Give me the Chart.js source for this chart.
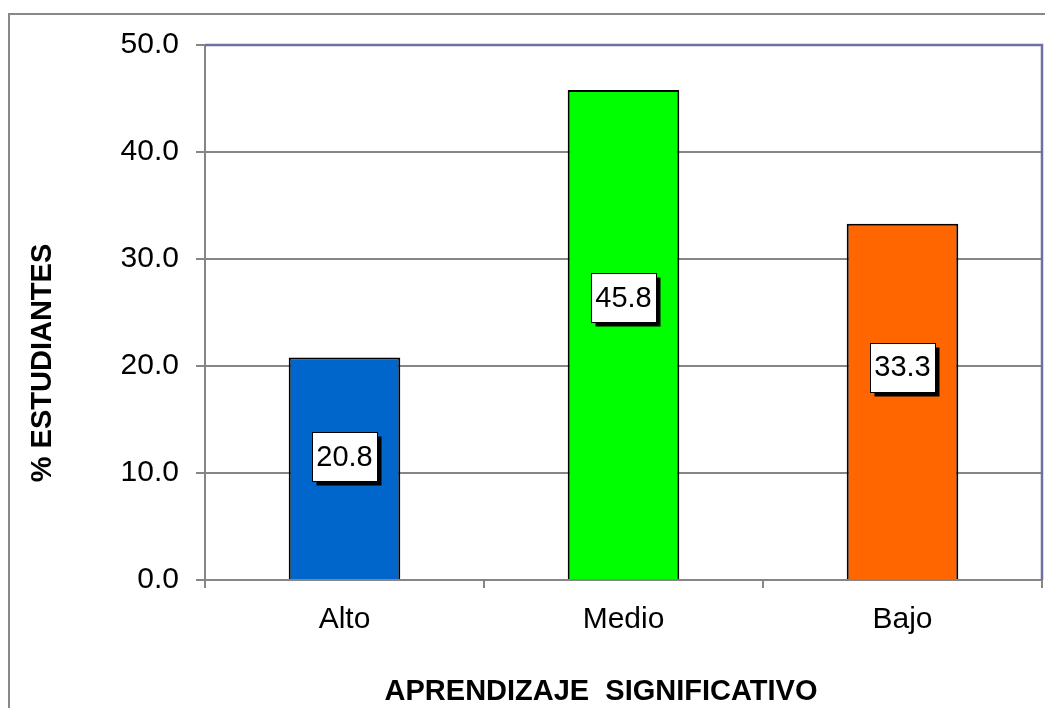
<!DOCTYPE html>
<html><head><meta charset="utf-8">
<script src="https://cdn.jsdelivr.net/npm/chart.js@4/dist/chart.umd.min.js"></script>
<style>html,body{margin:0;padding:0;background:#fff}canvas{display:block}</style>
</head><body>
<canvas id="chart" width="1045" height="708"></canvas>
<script>
(function(){
  "use strict";
  const CATS=["Alto","Medio","Bajo"];
  const VALUES=[20.8,45.8,33.3];
  const COLORS=["#0066CC","#00FF00","#FF6600"];
  // where each value box sits, in % units (moved by hand in the original)
  const LABEL_AT=[11.5,26.4,19.9];
  const Y_TITLE="% ESTUDIANTES";
  const X_TITLE="APRENDIZAJE  SIGNIFICATIVO";
  const FONT="'Liberation Sans', Arial, sans-serif";
  const GRID="#868686";

  const deco={
    id:"deco",
    beforeDraw(c){
      const x=c.ctx; x.save();
      x.fillStyle="#fff"; x.fillRect(0,0,c.width,c.height);
      x.strokeStyle="#888"; x.lineWidth=2; x.strokeRect(9,14,c.width+20,c.height+20);
      x.restore();
    },
    afterDraw(c){
      const x=c.ctx,a=c.chartArea,xs=c.scales.x,ys=c.scales.y; x.save();
      // plot frame top/right
      x.strokeStyle="#6F6FA2"; x.lineWidth=2.5;
      x.beginPath(); x.moveTo(a.left,a.top); x.lineTo(a.right,a.top); x.lineTo(a.right,a.bottom); x.stroke();
      // value boxes
      x.font="29px "+FONT; x.textAlign="center"; x.textBaseline="middle";
      VALUES.forEach((v,i)=>{
        const cx=xs.getPixelForValue(i),cy=ys.getPixelForValue(LABEL_AT[i]);
        const w=65,h=49,l=Math.round(cx-w/2)+0.5,t=Math.round(cy-h/2)+0.5;
        x.fillStyle="#000"; x.fillRect(l+4,t+4,w,h);
        x.fillStyle="#fff"; x.fillRect(l,t,w,h);
        x.strokeStyle="#000"; x.lineWidth=1; x.strokeRect(l,t,w,h);
        x.fillStyle="#000"; x.fillText(v.toFixed(1),cx,cy+1);
      });
      // axis titles
      x.font="bold 29px "+FONT;
      x.fillText(X_TITLE,601,692);
      x.translate(43,363); x.rotate(-Math.PI/2); x.fillText(Y_TITLE,0,0);
      x.restore();
    }
  };

  new Chart(document.getElementById("chart"),{
    type:"bar",
    data:{labels:CATS,datasets:[{data:VALUES,backgroundColor:COLORS,borderColor:"#000",borderWidth:2,
      categoryPercentage:1,barPercentage:0.4}]},
    options:{responsive:false,animation:false,devicePixelRatio:1,
      layout:{padding:{top:45,right:3,left:0,bottom:0}},
      plugins:{legend:{display:false},tooltip:{enabled:false}},
      scales:{
        x:{grid:{drawOnChartArea:false,drawTicks:true,tickLength:8,color:GRID,lineWidth:2,offset:true},
          border:{color:GRID,width:2},
          ticks:{color:"#000",font:{family:FONT,size:30},padding:14},
          afterFit:s=>{s.height=128;}},
        y:{min:0,max:50,
          grid:{color:GRID,lineWidth:2,tickLength:9},
          border:{color:GRID,width:2},
          ticks:{stepSize:10,color:"#000",font:{family:FONT,size:30},padding:17,callback:v=>v.toFixed(1)},
          afterFit:s=>{s.width=205;}}
      }},
    plugins:[deco]
  });
})();
</script>
</body></html>
